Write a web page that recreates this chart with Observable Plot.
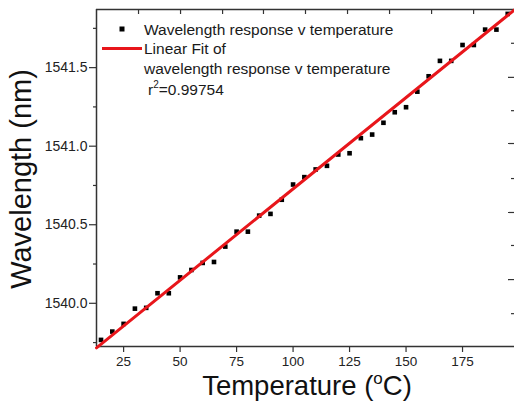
<!DOCTYPE html>
<html><head><meta charset="utf-8">
<script src="https://cdn.jsdelivr.net/npm/d3@7"></script>
<script src="https://cdn.jsdelivr.net/npm/@observablehq/plot@0.6"></script>
<style>body{margin:0;background:#fff}</style>
</head><body><div id="chart"></div>
<script>
const temperature = [15,20,25,30,35,40,45,50,55,60,65,70,75,80,85,90,95,100,105,110,115,120,125,130,135,140,145,150,155,160,165,170,175,180,185,190,195];
const wavelength = [1539.767,1539.820,1539.869,1539.966,1539.971,1540.064,1540.064,1540.165,1540.212,1540.257,1540.263,1540.361,1540.456,1540.456,1540.558,1540.569,1540.659,1540.756,1540.803,1540.852,1540.875,1540.947,1540.955,1541.051,1541.074,1541.149,1541.216,1541.248,1541.347,1541.445,1541.543,1541.543,1541.644,1541.644,1541.742,1541.742,1541.842];
const fitSlope = 0.01163;
const fitIntercept = 1539.565;
const xDomain = [13, 198];
const yDomain = [1539.725, 1541.87];
const xTicks = [25,50,75,100,125,150,175];
const yMajorTicks = [1540.0,1540.5,1541.0,1541.5];
const yMinorTicks = [1539.75,1540.25,1540.75,1541.25,1541.75];
const topTicks = [31.6,50.2,68.8,86.9,105.5,124.1,142.7,161.3,179.9];
const rightLongTicks = [1541.438,1541.017,1540.578,1540.151];
const rightShortTicks = [1541.655,1541.226,1540.794,1540.368,1539.934];
const legendSeries = "Wavelength response v temperature";
const legendFit = ["Linear Fit of","wavelength response v temperature"];
const r2Text = "0.99754";
const xTitle = ["Temperature (","o","C)"];
const yTitle = "Wavelength (nm)";

const points = temperature.map((t,i)=>({t, w: wavelength[i]}));
const fit = xDomain.map(t=>({t, w: fitSlope*t + fitIntercept}));
const axisColor = "#333";
const font = "'Liberation Sans', Arial, sans-serif";

const W = 514, H = 402, mL = 96, mR = 0, mT = 9, mB = 56;
const chart = Plot.plot({
  width: W, height: H,
  marginLeft: mL, marginRight: mR, marginTop: mT, marginBottom: mB,
  style: {fontFamily: font, background: "#fff", color: "#222", overflow: "visible"},
  x: {domain: xDomain},
  y: {domain: yDomain},
  marks: [
    Plot.axisY({ticks: yMajorTicks, tickSize: 7, tickPadding: 2, tickFormat: d3.format(".1f"), fontSize: 14, label: null, stroke: axisColor, strokeWidth: 1.2}),
    Plot.axisY({ticks: yMinorTicks, tickSize: 3, tickFormat: () => "", label: null, stroke: axisColor, strokeWidth: 1.2}),
    Plot.axisX({ticks: xTicks, tickSize: 6, tickPadding: 4, fontSize: 13.5, label: null, stroke: axisColor, strokeWidth: 1.2}),
    Plot.tickX(topTicks, {x: d=>d, insetBottom: H - mT - mB - 5, stroke: axisColor, strokeWidth: 1.2}),
    Plot.tickY(rightLongTicks, {y: d=>d, insetLeft: W - mL - mR - 6, stroke: axisColor, strokeWidth: 1.2}),
    Plot.tickY(rightShortTicks, {y: d=>d, insetLeft: W - mL - mR - 3, stroke: axisColor, strokeWidth: 1.2}),
    Plot.ruleX([xDomain[0]], {stroke: axisColor, strokeWidth: 1.5}),
    Plot.ruleY([yDomain[0]], {stroke: axisColor, strokeWidth: 1.5}),
    Plot.ruleY([yDomain[1]], {stroke: axisColor, strokeWidth: 1.5}),
    Plot.dot(points, {x: "t", y: "w", symbol: "square", r: 2.6, fill: "#000", stroke: null}),
    Plot.line(fit, {x: "t", y: "w", stroke: "#e8161b", strokeWidth: 3})
  ]
});
document.getElementById("chart").appendChild(chart);

const svg = d3.select(chart);
// Legend
const lg = svg.append("g").attr("font-family", font).attr("font-size", 15.5).attr("fill", "#1a1a1a").attr("text-anchor", "start");
lg.append("rect").attr("x", 119.5).attr("y", 26.5).attr("width", 5).attr("height", 5).attr("fill", "#000");
lg.append("text").attr("x", 144).attr("y", 34.5).text(legendSeries);
lg.append("line").attr("x1", 102).attr("x2", 142).attr("y1", 48.5).attr("y2", 48.5).attr("stroke", "#e8161b").attr("stroke-width", 3);
lg.append("text").attr("x", 144).attr("y", 54).text(legendFit[0]);
lg.append("text").attr("x", 144).attr("y", 74).text(legendFit[1]);
const r2 = lg.append("text").attr("x", 148).attr("y", 95);
r2.append("tspan").text("r");
r2.append("tspan").attr("font-size", 10).attr("dy", -7).text("2");
r2.append("tspan").attr("dy", 7).text("=" + r2Text);

// Axis titles
const xt = svg.append("text").attr("x", 307).attr("y", 395).attr("text-anchor", "middle")
  .attr("font-family", font).attr("font-size", 27.5).attr("fill", "#111");
xt.append("tspan").text(xTitle[0]);
xt.append("tspan").attr("font-size", 17).attr("dy", -11).text(xTitle[1]);
xt.append("tspan").attr("dy", 11).text(xTitle[2]);
svg.append("text").attr("transform", "translate(31,179) rotate(-90)").attr("text-anchor", "middle")
  .attr("font-family", font).attr("font-size", 29).attr("fill", "#111").text(yTitle);
</script>
</body></html>
